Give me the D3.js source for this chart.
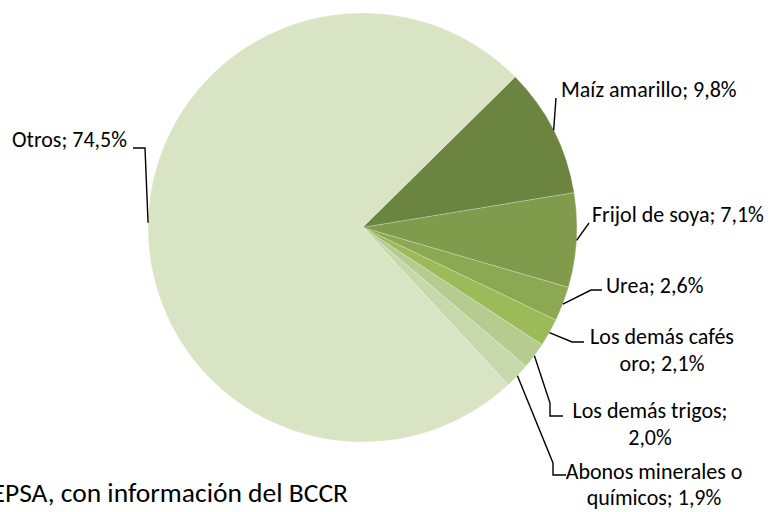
<!DOCTYPE html>
<html>
<head>
<meta charset="utf-8">
<script src="https://cdn.jsdelivr.net/npm/d3@7"></script>
<style>
  body { margin: 0; background: #fff; }
  text { font-family: Carlito, Calibri, Lato, sans-serif; fill: #000; }
</style>
</head>
<body>
<script>
const width = 768, height = 512;

// data
const categories = ["Maíz amarillo", "Frijol de soya", "Urea", "Los demás cafés oro",
                    "Los demás trigos", "Abonos minerales o químicos", "Otros"];
const shares = [9.8, 7.1, 2.6, 2.1, 2.0, 1.9, 74.5];
const sliceColors = ["#6b843f", "#7f9b4b", "#8ca853", "#9bbb59", "#b5cb8f", "#c7d8ab", "#d8e4c4"];
const sourceNote = "Fuente: SEPSA, con información del BCCR";

// label layout (text position, wrap, line gap, leader knees)
const labelLayout = [
  {x: 561, y: 97,  anchor: "start",  wrap: 0, gap: 0,  knees: [[556, 98]]},
  {x: 592, y: 222, anchor: "start",  wrap: 0, gap: 0,  knees: [[589, 223]]},
  {x: 606, y: 293, anchor: "start",  wrap: 0, gap: 0,  knees: [[591, 290], [602, 290]]},
  {x: 662, y: 344, anchor: "middle", wrap: 3, gap: 27, knees: [[572, 342], [584, 342]]},
  {x: 650, y: 418, anchor: "middle", wrap: 3, gap: 27, knees: [[550, 403], [550, 416], [563, 416]]},
  {x: 654, y: 479, anchor: "middle", wrap: 3, gap: 26, knees: [[553, 463], [553, 475], [566, 475]]},
  {x: 12,  y: 147, anchor: "start",  wrap: 0, gap: 0,  knees: [[133, 148], [145, 148]], reverse: true}
];

const cx = 362.5, cy = 227.5, radius = 214.5;
const fmt = v => d3.format(".1f")(v).replace(".", ",");

const svg = d3.select("body").append("svg")
  .attr("width", width)
  .attr("height", height);

const pie = d3.pie()
  .sort(null)
  .value(d => d)
  .startAngle(0.792)
  .endAngle(0.792 + 2 * Math.PI);

const arcs = pie(shares);

const arc = d3.arc().innerRadius(0).outerRadius(radius);
const edgeArc = d3.arc().innerRadius(radius).outerRadius(radius);

const g = svg.append("g").attr("transform", `translate(${cx},${cy})`);

g.selectAll("path")
  .data(arcs)
  .enter().append("path")
  .attr("d", arc)
  .attr("fill", (d, i) => sliceColors[i])
  .attr("stroke", "#fff")
  .attr("stroke-opacity", 0.4)
  .attr("stroke-width", 0.6);

// leader lines
const line = d3.line();
svg.append("g")
  .selectAll("path")
  .data(arcs)
  .enter().append("path")
  .attr("d", function (d, i) {
    let p = edgeArc.centroid(d);
    let knees = labelLayout[i].reverse ? labelLayout[i].knees.slice().reverse() : labelLayout[i].knees;
    return line([[p[0] + cx, p[1] + cy]].concat(knees));
  })
  .attr("fill", "none")
  .attr("stroke", "#000")
  .attr("stroke-width", 1.4);

// labels
const labels = svg.append("g")
  .selectAll("text")
  .data(arcs)
  .enter().append("text")
  .attr("x", (d, i) => labelLayout[i].x)
  .attr("y", (d, i) => labelLayout[i].y)
  .attr("text-anchor", (d, i) => labelLayout[i].anchor)
  .style("font-size", "22px");

labels.each(function (d, i) {
  let txt = categories[i] + "; " + fmt(shares[i]) + "%";
  let lay = labelLayout[i];
  let lines = [txt];
  if (lay.wrap > 0) {
    let words = txt.split(" ");
    lines = [words.slice(0, lay.wrap).join(" "), words.slice(lay.wrap).join(" ")];
  }
  d3.select(this).selectAll("tspan")
    .data(lines)
    .enter().append("tspan")
    .attr("x", lay.x)
    .attr("dy", (l, j) => j == 0 ? 0 : lay.gap)
    .text(l => l);
});

svg.append("text")
  .attr("x", 348)
  .attr("y", 502)
  .attr("text-anchor", "end")
  .style("font-size", "27.5px")
  .text(sourceNote);
</script>
</body>
</html>
